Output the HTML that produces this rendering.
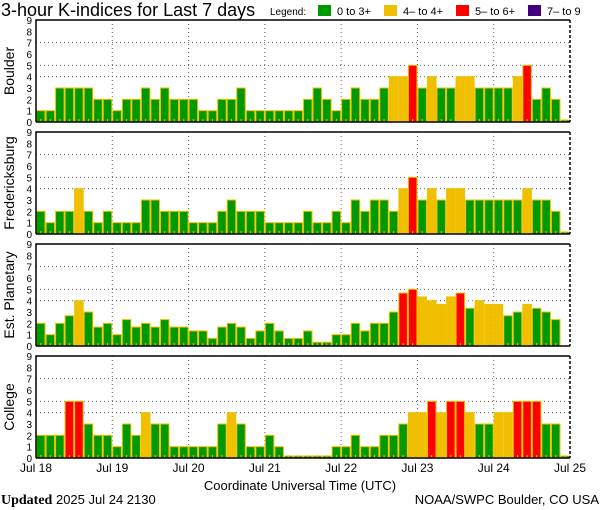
<!DOCTYPE html>
<html><head><meta charset="utf-8">
<style>
body{margin:0;background:#fff;}
svg{display:block;font-family:"Liberation Sans",sans-serif;}
</style></head>
<body>
<svg id="chart" width="600" height="510" viewBox="0 0 600 510" xmlns="http://www.w3.org/2000/svg">
<text x="1" y="16" font-size="18" fill="#000">3-hour K-indices for Last 7 days</text>
<g font-size="11">
<text x="270" y="15" font-size="10">Legend:</text>
<rect x="318" y="5" width="13" height="11" fill="#009900"/><text x="337" y="15">0 to 3+</text>
<rect x="384" y="5" width="13" height="11" fill="#f0c000"/><text x="403" y="15">4– to 4+</text>
<rect x="456" y="5" width="13" height="11" fill="#ff0000"/><text x="475" y="15">5– to 6+</text>
<rect x="528" y="5" width="13" height="11" fill="#400080"/><text x="547" y="15">7– to 9</text>
</g>
<g id="panels"></g>
<g id="xlabels" font-size="12"></g>
<text x="300" y="490" font-size="13" text-anchor="middle">Coordinate Universal Time (UTC)</text>
<text x="1" y="504" font-size="13"><tspan font-family="Liberation Serif,serif" font-weight="bold" font-size="14">Updated</tspan> 2025 Jul 24 2130</text>
<text x="599" y="504" font-size="13" text-anchor="end">NOAA/SWPC Boulder, CO USA</text>
</svg>
<script>
const stations = ["Boulder","Fredericksburg","Est. Planetary","College"];
const dayLabels = ["Jul 18","Jul 19","Jul 20","Jul 21","Jul 22","Jul 23","Jul 24","Jul 25"];
const yTicks = [0,1,2,3,4,5,6,7,8,9];
const gridLevels = [4,5,7];
const boulder = [1,1,3,3,3,3,2,2, 1,2,2,3,2,3,2,2, 2,1,1,2,2,3,1,1, 1,1,1,1,2,3,2,1, 2,3,2,2,3,4,4,5, 3,4,3,3,4,4,3,3, 3,3,4,5,2,3,2,0];
const fredericksburg = [2,1,2,2,4,2,1,2, 1,1,1,3,3,2,2,2, 1,1,1,2,3,2,2,2, 1,1,1,1,2,1,1,2, 1,3,2,3,3,2,4,5, 3,4,3,4,4,3,3,3, 3,3,3,4,3,3,2,0];
const planetary = [2,1,2,2.67,4,3,1.67,2, 1,2.33,1.67,2,1.67,2.33,1.67,1.67, 1.33,1.33,0.67,1.67,2,1.67,0.67,1.33, 2,1.33,0.67,0.67,1.33,0.33,0.33,1, 1,2,1.33,2,2,3,4.67,5, 4.33,4,3.67,4.33,4.67,3.33,4,3.67, 3.67,2.67,3,3.67,3.33,3,2.33,null];
const college = [2,2,2,5,5,3,2,2, 1,3,2,4,3,3,1,1, 1,1,1,3,4,3,1,1, 2,1,0,0,0,0,0,1, 1,2,1,1,2,2,3,4, 4,5,4,5,5,4,3,3, 4,4,5,5,5,3,3,0];
const series = [boulder,fredericksburg,planetary,college];

const NS="http://www.w3.org/2000/svg";
const X0=36,X1=570,PH=102,TOPS=[20,132,244,356],N=56;
function xs(i){return X0+(X1-X0)*i/N;}
function ys(v,top){return top+PH-v*PH/9;}
function col(v){return v<3.5?"#009900":v<4.5?"#f0c000":v<6.5?"#ff0000":"#400080";}
function mk(tag,attrs,parent){const e=document.createElementNS(NS,tag);for(const k in attrs)e.setAttribute(k,attrs[k]);parent.appendChild(e);return e;}
const panels=document.getElementById("panels");
series.forEach((data,p)=>{
  const top=TOPS[p];
  const g=mk("g",{},panels);
  
  
  gridLevels.forEach(l=>{const ln=mk("line",{x1:X0,x2:X1,y1:ys(l,top),y2:ys(l,top),stroke:"#666","stroke-dasharray":"1,3"},g);
    
    });
  for(let d=1;d<7;d++){const ln=mk("line",{x1:xs(d*8),x2:xs(d*8),y1:top,y2:top+PH,stroke:"#666","stroke-dasharray":"1,3"},g);
    
    }
  data.forEach((v,i)=>{
    if(v===null)return;
    const x=xs(i),w=xs(i+1)-x;
    const h=Math.max(v*PH/9,2);
    const r=mk("rect",{x:x+0.5,y:top+PH-h,width:w-1,height:h,fill:col(v),stroke:"#f0c000","stroke-width":1},g);
    
    
    mk("line",{x1:x+w/2,x2:x+w/2,y1:top+PH-3,y2:top+PH,stroke:"#f0c000"},g);
  });
  const fr=mk("path",{d:`M${X0},${top+PH}V${top}H${X1}`,fill:"none",stroke:"#000","stroke-width":1.5},g);
  
  
  mk("line",{x1:X0,x2:X1,y1:top+PH,y2:top+PH,stroke:"#000","stroke-width":1.5},g);
  mk("line",{x1:X1,x2:X1,y1:top,y2:top+PH,stroke:"#000","stroke-width":1.5,"stroke-dasharray":"3,2"},g);
  yTicks.forEach(t=>{const tx=mk("text",{x:32,y:ys(t,top)+4,"font-size":10,"text-anchor":"end"},g);tx.textContent=t;
    
    });
  const yl=mk("text",{x:0,y:0,"font-size":14,"text-anchor":"middle",transform:`translate(14,${top+PH/2}) rotate(-90)`},g);
  yl.textContent=stations[p];
  
  
});
const xl=document.getElementById("xlabels");
dayLabels.forEach((d,k)=>{const t=mk("text",{x:xs(k*8),y:472,"text-anchor":"middle"},xl);t.textContent=d;
  
  });
</script>
</body></html>
